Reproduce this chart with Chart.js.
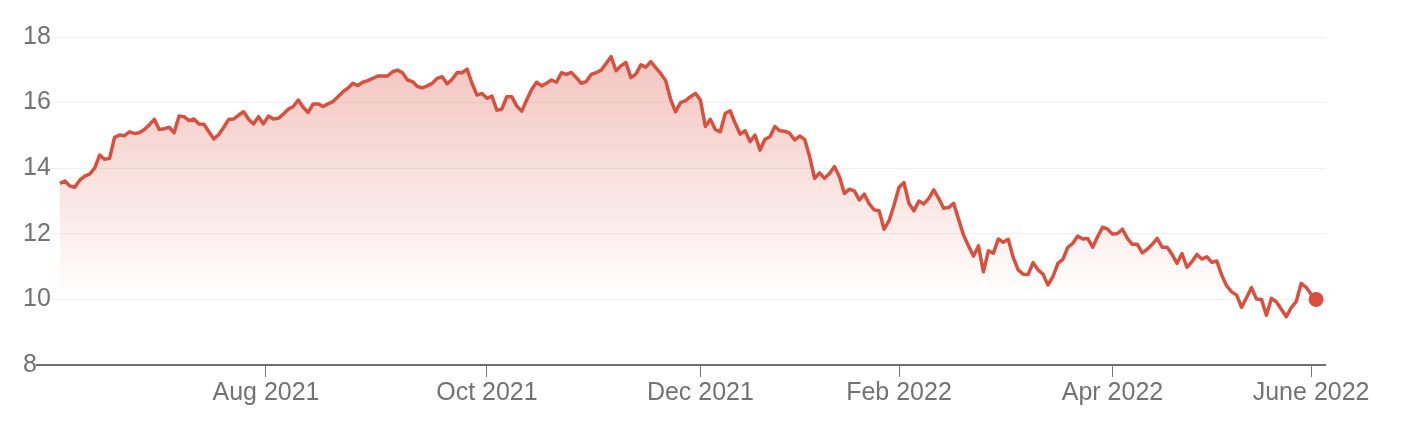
<!DOCTYPE html>
<html>
<head>
<meta charset="utf-8">
<script src="https://cdn.jsdelivr.net/npm/chart.js@4/dist/chart.umd.min.js"></script>
<style>
  html, body { margin: 0; padding: 0; background: #ffffff; }
  #wrap { width: 1416px; height: 448px; }
</style>
</head>
<body>
<div id="wrap"><canvas id="c" width="1416" height="448"></canvas></div>
<script>
// Daily closing values, June 2021 – June 2022
const values = [
  13.54, 13.61, 13.46, 13.42, 13.64, 13.76, 13.82, 14.0, 14.40, 14.27, 14.3, 14.94, 15.01, 14.99, 15.11, 15.06, 15.08, 15.18, 15.32, 15.49, 15.18, 15.2, 15.25, 15.08, 15.59, 15.57, 15.45, 15.5, 15.35, 15.34, 15.11, 14.89, 15.03, 15.25, 15.49, 15.5, 15.62, 15.72, 15.49, 15.35, 15.57, 15.35, 15.59,
  15.5, 15.52, 15.65, 15.80, 15.88, 16.08, 15.86, 15.70, 15.96, 15.96, 15.88, 15.96, 16.03, 16.18, 16.33, 16.44, 16.59, 16.52, 16.62, 16.67, 16.74, 16.81, 16.81, 16.81, 16.94, 16.99, 16.91, 16.69, 16.64, 16.49, 16.45, 16.51, 16.59, 16.74, 16.79, 16.57, 16.71, 16.92, 16.91, 17.02, 16.59, 16.23,
  16.28, 16.13, 16.20, 15.77, 15.80, 16.18, 16.18, 15.90, 15.74, 16.08, 16.40, 16.62, 16.51, 16.59, 16.69, 16.62, 16.91, 16.86, 16.92, 16.76, 16.59, 16.64, 16.86, 16.91, 16.99, 17.19, 17.40, 16.97, 17.12, 17.22, 16.76, 16.87, 17.15, 17.08, 17.25, 17.07, 16.89, 16.67, 16.10, 15.72, 16.00, 16.06, 16.18,
  16.28, 16.08, 15.27, 15.49, 15.18, 15.11, 15.67, 15.75, 15.37, 15.04, 15.14, 14.81, 15.01, 14.55, 14.88, 14.96, 15.27, 15.14, 15.13, 15.06, 14.86, 14.98, 14.88, 14.35, 13.69, 13.86, 13.69, 13.84, 14.05, 13.74, 13.23, 13.36, 13.31, 13.03, 13.21, 12.91, 12.73, 12.70, 12.14, 12.40, 12.88, 13.42,
  13.56, 12.93, 12.70, 13.0, 12.91, 13.08, 13.34, 13.08, 12.78, 12.80, 12.93, 12.44, 11.96, 11.63, 11.32, 11.63, 10.84, 11.48, 11.41, 11.84, 11.74, 11.83, 11.28, 10.90, 10.77, 10.76, 11.12, 10.90, 10.77, 10.44, 10.69, 11.10, 11.22, 11.59, 11.71, 11.93, 11.84, 11.86, 11.59, 11.91, 12.20, 12.14,
  11.99, 12.01, 12.14, 11.86, 11.68, 11.68, 11.42, 11.53, 11.68, 11.86, 11.59, 11.59, 11.37, 11.10, 11.40, 10.98, 11.15, 11.37, 11.23, 11.30, 11.13, 11.17, 10.74, 10.41, 10.23, 10.13, 9.76, 10.06, 10.36, 10.01, 10.00, 9.52, 10.03, 9.93, 9.70, 9.47, 9.75, 9.93, 10.49, 10.37, 10.16, 10.00
];
// Month labels and the data index where each month begins
const tickLabels = ['Aug 2021', 'Oct 2021', 'Dec 2021', 'Feb 2022', 'Apr 2022', 'June 2022'];
const tickIndex = [41.5, 86, 129, 169, 212, 252];
const yTicks = [8, 10, 12, 14, 16, 18];

const RED = '#d9503f';
const GRAY = '#737373';
const FONT = "'Liberation Sans', Arial, Helvetica, sans-serif";

const points = values.map((v, i) => ({ x: i, y: v }));
const last = values.length - 1;

const axisLine = {
  id: 'axisLine',
  afterDraw(chart) {
    const { ctx, scales } = chart;
    const y = scales.y.getPixelForValue(yTicks[0]);
    ctx.save();
    ctx.strokeStyle = '#6f6f6f';
    ctx.lineWidth = 2;
    ctx.beginPath();
    ctx.moveTo(36, y);
    ctx.lineTo(chart.chartArea.right, y);
    ctx.stroke();
    ctx.restore();
  }
};

new Chart(document.getElementById('c'), {
  type: 'line',
  data: {
    datasets: [{
      data: points,
      borderColor: RED,
      borderWidth: 3.5,
      borderJoinStyle: 'round',
      tension: 0,
      fill: 'start',
      backgroundColor: (ctx) => {
        const ca = ctx.chart.chartArea;
        if (!ca) return 'rgba(217,80,63,0.15)';
        const g = ctx.chart.ctx.createLinearGradient(0, ca.top, 0, ca.top + 0.8 * (ca.bottom - ca.top));
        g.addColorStop(0, 'rgba(217,80,63,0.36)');
        g.addColorStop(1, 'rgba(217,80,63,0.0)');
        return g;
      },
      pointRadius: (ctx) => ctx.dataIndex === last ? 7.5 : 0,
      pointHoverRadius: 0,
      pointBackgroundColor: RED,
      pointBorderWidth: 0
    }]
  },
  options: {
    responsive: false,
    animation: false,
    events: [],
    layout: { padding: { left: 23, right: 90, top: 37, bottom: 0 } },
    plugins: { legend: { display: false }, tooltip: { enabled: false } },
    scales: {
      x: {
        type: 'linear',
        min: -2,
        max: values.length + 1,
        afterFit: (s) => { s.height = 83; },
        afterBuildTicks: (s) => { s.ticks = tickIndex.map(v => ({ value: v })); },
        grid: { drawOnChartArea: false, drawTicks: true, tickLength: 12, color: '#777777', lineWidth: 1 },
        border: { display: false },
        ticks: {
          autoSkip: false,
          maxRotation: 0,
          padding: 1,
          color: GRAY,
          font: { family: FONT, size: 25 },
          callback: (v, i) => tickLabels[i]
        }
      },
      y: {
        min: 8,
        max: 18,
        afterFit: (s) => { s.width = 27; },
        afterBuildTicks: (s) => { s.ticks = yTicks.map(v => ({ value: v })); },
        grid: { color: '#f0f0f0', lineWidth: 1, drawTicks: false },
        border: { display: false },
        ticks: {
          crossAlign: 'far',
          padding: 0,
          color: GRAY,
          font: { family: FONT, size: 25 }
        }
      }
    }
  },
  plugins: [axisLine]
});
</script>
</body>
</html>
